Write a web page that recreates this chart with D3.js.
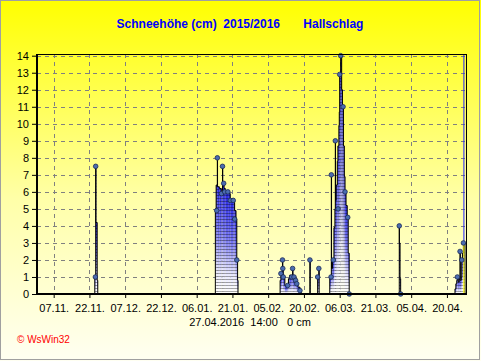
<!DOCTYPE html>
<html><head><meta charset="utf-8">
<script src="https://cdn.jsdelivr.net/npm/d3@7"></script>
<style>
body{margin:0;background:#fff}
svg{display:block}
text{font-family:Arial,"Liberation Sans",sans-serif}
</style>
</head><body>
<svg id="c" width="481" height="361"></svg>
<script>
// ---------- data ----------
const titleText = "Schneehöhe (cm)  2015/2016       Hallschlag";
const footerText = "27.04.2016  14:00   0 cm";
const creditText = "© WsWin32";
const xTickDates = ["2015-11-07","2015-11-22","2015-12-07","2015-12-22","2016-01-06","2016-01-21",
                    "2016-02-05","2016-02-20","2016-03-06","2016-03-21","2016-04-05","2016-04-20"];
const yTickValues = [0,1,2,3,4,5,6,7,8,9,10,11,12,13,14];
const domainStart = "2015-10-31T00:00", domainEnd = "2016-04-28T00:00";

// readings (step series)
const readingTimes = [
 "2015-11-24T06:00","2015-11-24T15:00","2015-11-24T17:00","2015-11-25T06:00","2015-11-25T12:00",
 "2016-01-13T20:00","2016-01-14T04:00","2016-01-14T16:00","2016-01-14T18:00","2016-01-15T12:00",
 "2016-01-16T08:00","2016-01-16T20:00","2016-01-16T22:00","2016-01-17T12:00","2016-01-18T00:00",
 "2016-01-19T12:00","2016-01-20T02:00","2016-01-21T08:00","2016-01-21T22:00","2016-01-22T12:00",
 "2016-01-22T20:00","2016-01-23T04:00","2016-01-23T08:00",
 "2016-02-10T00:00","2016-02-10T08:00","2016-02-11T00:00","2016-02-11T03:00","2016-02-11T08:00",
 "2016-02-12T00:00","2016-02-13T04:00","2016-02-13T12:00","2016-02-14T00:00","2016-02-14T20:00",
 "2016-02-15T06:00","2016-02-15T09:00","2016-02-15T20:00","2016-02-16T12:00","2016-02-17T00:00",
 "2016-02-17T12:00","2016-02-18T08:00","2016-02-18T20:00",
 "2016-02-22T12:00","2016-02-22T15:00",
 "2016-02-25T18:00","2016-02-26T06:00","2016-02-26T09:00",
 "2016-03-01T20:00","2016-03-02T12:00","2016-03-02T14:00","2016-03-03T00:00","2016-03-03T14:00",
 "2016-03-04T00:00","2016-03-04T04:00","2016-03-04T06:00","2016-03-04T12:00","2016-03-05T00:00",
 "2016-03-05T06:00","2016-03-05T16:00","2016-03-05T20:00","2016-03-06T00:00","2016-03-06T10:00",
 "2016-03-06T20:00","2016-03-07T04:00","2016-03-07T14:00","2016-03-07T23:00","2016-03-08T06:00",
 "2016-03-08T16:00","2016-03-09T04:00","2016-03-09T14:00","2016-03-10T00:00",
 "2016-03-31T00:00","2016-03-31T01:00","2016-03-31T08:00","2016-03-31T14:00",
 "2016-04-23T09:00","2016-04-23T18:00","2016-04-24T03:00","2016-04-24T09:00","2016-04-24T18:00",
 "2016-04-25T03:00","2016-04-25T12:00","2016-04-25T14:00","2016-04-26T00:00","2016-04-26T05:00",
 "2016-04-26T12:00","2016-04-26T22:00","2016-04-27T14:00"
];
const readingValues = [
 1.0,7.5,4.2,0.8,0,
 5.0,6.4,8.0,6.3,6.2,
 6.0,7.5,6.5,6.2,6.0,
 5.9,5.6,5.5,4.9,4.4,
 2.0,0.8,0,
 0.8,1.2,2.0,1.5,0.9,
 0.5,0.5,0.9,1.1,1.0,
 1.5,1.1,1.0,0.8,0.6,
 0.4,0.2,0,
 2.0,0,
 1.0,1.5,0,
 1.0,7.0,1.5,2.0,3.9,
 5.0,9.0,5.5,6.4,7.8,
 8.7,9.9,10.7,12.9,14.0,
 12.0,11.0,8.7,6.9,6.0,
 5.2,4.5,2.4,0,
 4.0,3.0,0.9,0,
 0.3,0.6,0.8,1.0,0.7,
 0.9,2.5,0.8,1.0,2.0,
 2.4,3.0,0
];

// daily marker points
const dotTimes = [
 "2015-11-24T12:00","2015-11-24T15:00",
 "2016-01-14T10:00","2016-01-14T16:00","2016-01-16T10:00","2016-01-16T20:00","2016-01-17T08:00",
 "2016-01-17T18:00","2016-01-19T02:00","2016-01-20T02:00","2016-01-21T08:00","2016-01-21T22:00","2016-01-22T20:00",
 "2016-02-10T08:00","2016-02-11T00:00","2016-02-11T03:00","2016-02-11T08:00","2016-02-13T04:00",
 "2016-02-14T20:00","2016-02-15T06:00","2016-02-15T20:00","2016-02-16T12:00","2016-02-17T00:00",
 "2016-02-18T08:00","2016-02-22T12:00","2016-02-25T18:00","2016-02-26T06:00",
 "2016-03-02T09:00","2016-03-02T12:00","2016-03-03T08:00","2016-03-04T04:00","2016-03-05T08:00",
 "2016-03-06T00:00","2016-03-06T10:00","2016-03-07T10:00","2016-03-08T06:00","2016-03-09T09:00","2016-03-10T01:00",
 "2016-03-31T00:00","2016-03-31T14:00",
 "2016-04-24T09:00","2016-04-25T12:00","2016-04-26T05:00","2016-04-26T22:00"
];
const dotValues = [
 1.0,7.5,
 4.9,8.0,5.9,7.5,6.5,
 6.0,6.0,5.5,5.5,4.4,2.0,
 1.2,2.0,1.5,1.0,0.5,
 1.0,1.5,1.0,0.8,0.6,
 0.2,2.0,1.0,1.5,
 1.0,7.0,2.0,9.0,5.0,
 12.9,14.0,11.0,6.0,4.5,0,
 4.0,0,
 1.0,2.5,2.0,3.0
];

// ---------- drawing ----------
const parse = d3.timeParse("%Y-%m-%dT%H:%M");
const parseDay = d3.timeParse("%Y-%m-%d");
const W = 481, H = 361;
const plot = {left: 37, right: 466, top: 54, bottom: 294};

const svg = d3.select("#c");
const defs = svg.append("defs");

const bg = defs.append("linearGradient").attr("id","bg").attr("x1",0).attr("y1",0).attr("x2",0).attr("y2",1);
bg.append("stop").attr("offset","0%").attr("stop-color","#ffff00");
bg.append("stop").attr("offset","55%").attr("stop-color","#ffffa8");
bg.append("stop").attr("offset","100%").attr("stop-color","#fffff2");

const bar = defs.append("linearGradient").attr("id","bar").attr("x1",0).attr("y1",0).attr("x2",0).attr("y2",1);
bar.append("stop").attr("offset","0%").attr("stop-color","#2424e6");
bar.append("stop").attr("offset","45%").attr("stop-color","#7272f0");
bar.append("stop").attr("offset","80%").attr("stop-color","#e6e6ff");
bar.append("stop").attr("offset","100%").attr("stop-color","#ffffff");

const hatch = defs.append("pattern").attr("id","hatch").attr("patternUnits","userSpaceOnUse")
  .attr("width",2).attr("height",3);
hatch.append("rect").attr("x",0).attr("y",0).attr("width",2).attr("height",1).attr("fill","#000").attr("fill-opacity",0.35);

svg.append("rect").attr("x",0).attr("y",0).attr("width",W).attr("height",H).attr("fill","url(#bg)");
svg.append("rect").attr("x",0.5).attr("y",0.5).attr("width",W-2).attr("height",H-2)
  .attr("fill","none").attr("stroke","#a0a0a0").attr("stroke-width",1);

const x = d3.scaleTime().domain([parse(domainStart), parse(domainEnd)]).range([plot.left, plot.right]);
const y = d3.scaleLinear().domain([0, 14.1]).range([plot.bottom, plot.top]);

// grid
const g = svg.append("g");
g.selectAll("line.hg").data(yTickValues.filter(v=>v>0)).join("line")
  .attr("x1",plot.left).attr("x2",plot.right)
  .attr("y1",d=>Math.round(y(d))+0.5).attr("y2",d=>Math.round(y(d))+0.5)
  .attr("stroke","#808080").attr("stroke-dasharray","4,4");
const xTicks = xTickDates.map(parseDay);
g.selectAll("line.vg").data(xTicks).join("line")
  .attr("x1",d=>Math.round(x(d))+0.5).attr("x2",d=>Math.round(x(d))+0.5)
  .attr("y1",plot.top).attr("y2",plot.bottom)
  .attr("stroke","#808080").attr("stroke-dasharray","4,4");

// bars
const readings = readingTimes.map((t,i)=>({t:parse(t), v:readingValues[i]}));
const segs = [];
for (let i=0;i<readings.length-1;i++){
  if (readings[i].v>0) segs.push({t0:readings[i].t, t1:readings[i+1].t, v:readings[i].v});
}
const bars = svg.append("g");
bars.selectAll("rect.b").data(segs).join("rect")
  .attr("x",d=>x(d.t0)).attr("width",d=>Math.max(0.6, x(d.t1)-x(d.t0)))
  .attr("y",d=>y(d.v)).attr("height",d=>y(0)-y(d.v))
  .attr("fill","url(#bar)");
bars.selectAll("rect.h").data(segs).join("rect")
  .attr("x",d=>x(d.t0)).attr("width",d=>Math.max(0.6, x(d.t1)-x(d.t0)))
  .attr("y",d=>y(d.v)).attr("height",d=>y(0)-y(d.v))
  .attr("fill","url(#hatch)");

const line = d3.line().x(d=>x(d.t)).y(d=>y(d.v)).curve(d3.curveStepAfter);
// split into runs ending with zero
let runs=[], cur=[];
readings.forEach((r,i)=>{ cur.push(r); if (r.v===0){ runs.push(cur); cur=[]; } });
svg.append("g").selectAll("path").data(runs).join("path")
  .attr("d",d=>line([{t:d[0].t,v:0}].concat(d)))
  .attr("fill","none").attr("stroke","#000").attr("stroke-width",1);

// current marker line
const lastDot = {t:parse(dotTimes[dotTimes.length-1]), v:dotValues[dotValues.length-1]};
svg.append("line").attr("x1",x(lastDot.t)+0.5).attr("x2",x(lastDot.t)+0.5)
  .attr("y1",plot.top).attr("y2",y(lastDot.v)).attr("stroke","#2020ff").attr("stroke-width",1);
svg.append("line").attr("x1",x(lastDot.t)+0.5).attr("x2",x(lastDot.t)+0.5)
  .attr("y1",y(lastDot.v)).attr("y2",plot.bottom).attr("stroke","#ffff00").attr("stroke-width",1.2);

// dots
const dots = dotTimes.map((t,i)=>({t:parse(t), v:dotValues[i]}));
svg.append("g").selectAll("circle").data(dots).join("circle")
  .attr("cx",d=>x(d.t)).attr("cy",d=>y(d.v)).attr("r",2.3)
  .attr("fill","#4b6cb0").attr("stroke","#1a2a55").attr("stroke-width",0.8);

// frame
svg.append("line").attr("x1",plot.left).attr("x2",plot.right).attr("y1",plot.top+0.5).attr("y2",plot.top+0.5).attr("stroke","#000");
svg.append("line").attr("x1",plot.right+0.5).attr("x2",plot.right+0.5).attr("y1",plot.top).attr("y2",plot.bottom).attr("stroke","#000");
svg.append("line").attr("x1",plot.left).attr("x2",plot.left).attr("y1",plot.top).attr("y2",plot.bottom+1).attr("stroke","#000").attr("stroke-width",2);
svg.append("line").attr("x1",plot.left-1).attr("x2",plot.right+1).attr("y1",plot.bottom).attr("y2",plot.bottom).attr("stroke","#000").attr("stroke-width",2);

// axes
const yAxis = d3.axisLeft(y).tickValues(yTickValues).tickSize(4).tickPadding(3).tickFormat(d3.format("d"));
const ya = svg.append("g").attr("transform",`translate(${plot.left-1},0)`).call(yAxis);
ya.select(".domain").remove();
ya.selectAll("text").attr("font-size",11).attr("fill","#000").attr("font-family","Arial, 'Liberation Sans', sans-serif");
ya.selectAll("line").attr("stroke","#000");

const fmt = d3.timeFormat("%d.%m.");
const xAxis = d3.axisBottom(x).tickValues(xTicks).tickSize(3).tickPadding(6).tickFormat(fmt);
const xa = svg.append("g").attr("transform",`translate(0,${plot.bottom+1})`).call(xAxis);
xa.select(".domain").remove();
xa.selectAll("text").attr("font-size",11).attr("fill","#000").attr("font-family","Arial, 'Liberation Sans', sans-serif");
xa.selectAll("line").attr("stroke","#000");

// texts
svg.append("text").attr("x",240).attr("y",28).attr("text-anchor","middle")
  .attr("font-size",12).attr("font-weight","bold").attr("fill","#0000ff")
  .style("white-space","pre").text(titleText);
svg.append("text").attr("x",250).attr("y",326).attr("text-anchor","middle")
  .attr("font-size",11).attr("fill","#000").style("white-space","pre").text(footerText);
svg.append("text").attr("x",17).attr("y",343).attr("font-size",10).attr("fill","#ff0000").text(creditText);
</script>
</body></html>
